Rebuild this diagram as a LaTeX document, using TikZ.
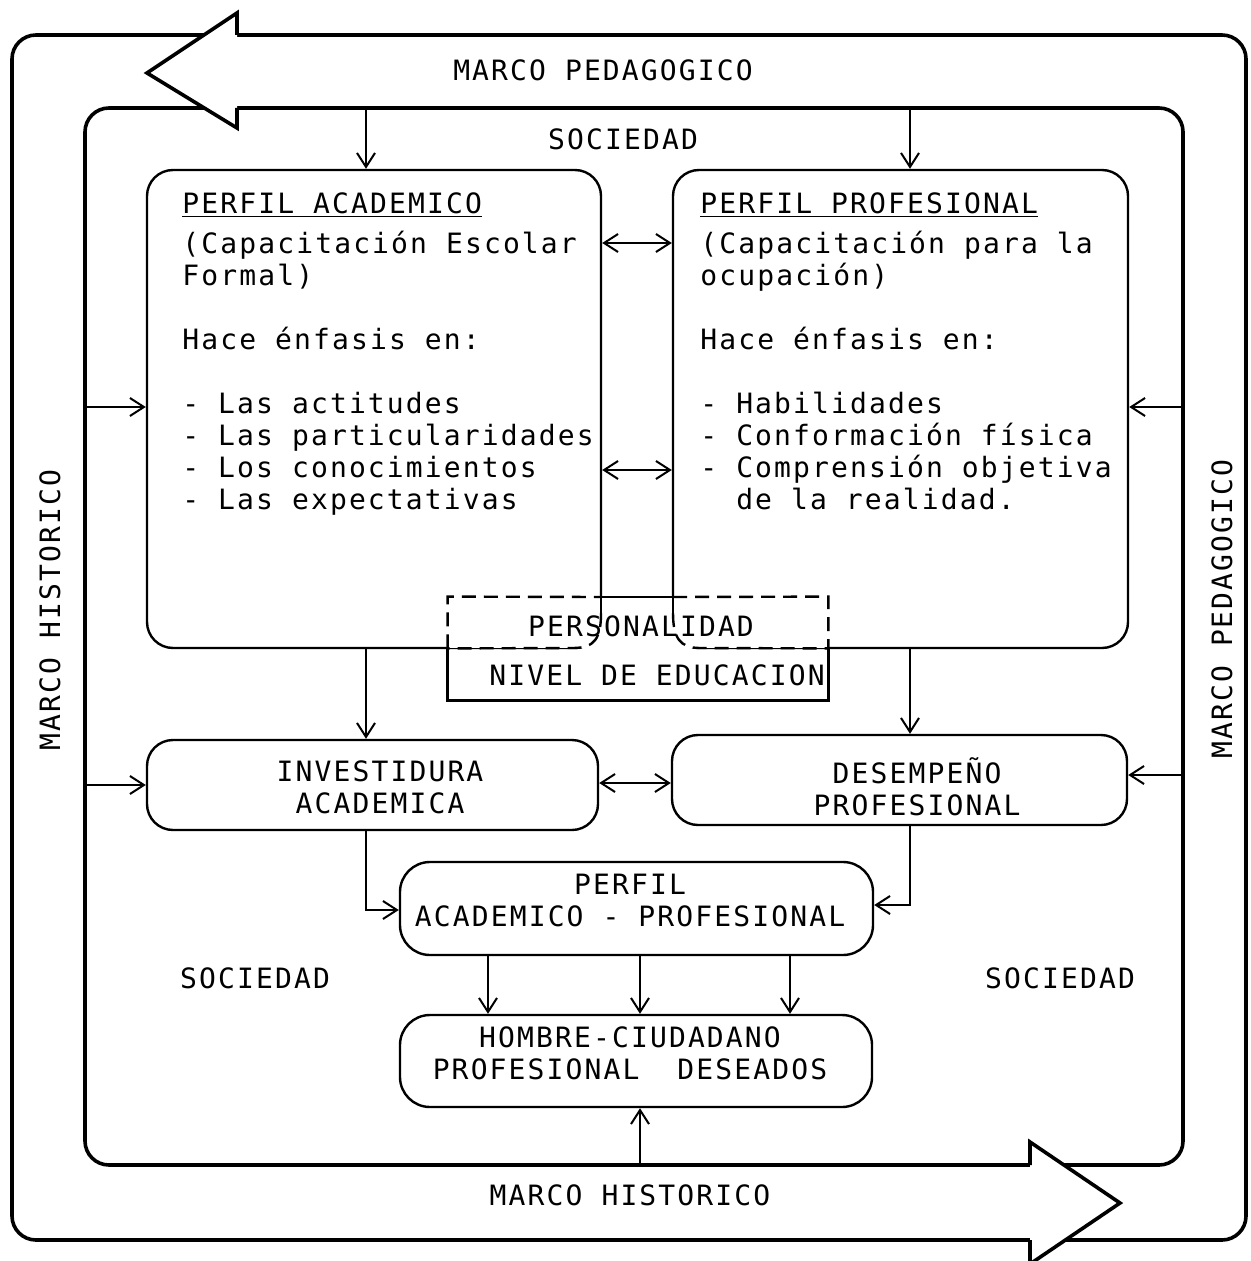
\documentclass[tikz,border=0pt]{standalone}
\usepackage{fontspec}
\newfontfamily\tw[LetterSpace=7.6]{DejaVu Sans Mono}
\usetikzlibrary{arrows.meta,fit,calc}
\begin{document}
\begin{tikzpicture}[x=0.5pt,y=-0.5pt,
  every node/.style={font=\tw\fontsize{14}{16}\selectfont, inner sep=0pt},
  frame/.style={draw, line width=1.8pt, rounded corners=12pt, inner sep=0pt},
  box/.style={draw, line width=1.2pt, rounded corners=13pt, inner sep=0pt},
  >={Straight Barb[length=7pt,width=9pt]},
  arr/.style={line width=1pt, ->},
  darr/.style={line width=1pt, <->},
  dsh/.style={line width=1.2pt, dash pattern=on 7pt off 4pt},
  sld/.style={line width=1.2pt}]
\useasboundingbox (0,0) rectangle (1250,1261);

% frames
\node[frame, fit={(12,35)(1246,1240)}] (outer) {};
\node[frame, fit={(85,108)(1183,1165)}] (inner) {};

% big arrow heads
\fill[white] (237,35) -- (237,13) -- (147,73) -- (237,128) -- (237,108) -- cycle;
\draw[line width=1.8pt] (237,35) -- (237,13) -- (147,73) -- (237,128) -- (237,108);
\fill[white] (1030,1165) -- (1030,1142) -- (1120,1203) -- (1030,1264) -- (1030,1240) -- cycle;
\draw[line width=1.8pt] (1030,1165) -- (1030,1142) -- (1120,1203) -- (1030,1264) -- (1030,1240);

% frame labels
\node (mpt) at (603,70) {MARCO PEDAGOGICO};
\node (mhb) at (630,1195) {MARCO HISTORICO};
\node[rotate=90] (mhl) at (50,610) {MARCO HISTORICO};
\node[rotate=90] (mpr) at (1222,609) {MARCO PEDAGOGICO};
\node (soc1) at (623,139) {SOCIEDAD};
\node (soc2) at (255,978) {SOCIEDAD};
\node (soc3) at (1060,978) {SOCIEDAD};

% profile boxes
\node[box, fit={(147,170)(601,648)}] (pa) {};
\node[box, fit={(673,170)(1128,648)}] (pp) {};
\node[anchor=north west, align=left] (pat) at (182,192)
 {\underline{PERFIL ACADEMICO}\\[4pt]
  (Capacitación Escolar\\
  Formal)\\[16pt]
  Hace énfasis en:\\[16pt]
  - Las actitudes\\
  - Las particularidades\\
  - Los conocimientos\\
  - Las expectativas};
\node[anchor=north west, align=left] (ppt) at (700,192)
 {\underline{PERFIL PROFESIONAL}\\[4pt]
  (Capacitación para la\\
  ocupación)\\[16pt]
  Hace énfasis en:\\[16pt]
  - Habilidades\\
  - Conformación física\\
  - Comprensión objetiva\\
  \phantom{-}\ de la realidad.};

% personalidad / nivel de educacion
\node[fit={(448,597)(828,648)}] (per) {};
\node[fit={(448,648)(828,700)}] (niv) {};
\fill[white] (per.north west) rectangle (per.south east);
\draw[dsh] (per.south west) -- (per.north west) -- (601,597);
\draw[dsh] (673,597) -- (per.north east) -- (per.south east);
\draw[sld] (601,613) -- (601,597) -- (673,597) -- (673,613);
\draw[dsh] (601,613) .. controls (601,638) and (595,648) .. (573,648) -- (per.south west);
\draw[dsh] (673,613) .. controls (673,638) and (680,648) .. (700,648) -- (per.south east);
\draw[sld] (niv.north west) -- (niv.south west) -- (niv.south east) -- (niv.north east);
\node (pert) at (641,626) {PERSONALIDAD};
\node (nivt) at (657,675) {NIVEL DE EDUCACION};

% lower boxes
\node[box, fit={(147,740)(598,830)}] (inv) {};
\node[box, fit={(672,735)(1127,825)}] (des) {};
\node[box, rounded corners=15pt, fit={(400,862)(873,955)}] (pap) {};
\node[box, rounded corners=15pt, fit={(400,1015)(872,1107)}] (hom) {};
\node[align=center] (invt) at (380,787) {INVESTIDURA\\ACADEMICA};
\node[align=center] (dest) at (917,787) {DESEMPEÑO\\PROFESIONAL};
\node[align=center] (papt) at (630,900) {PERFIL\\ACADEMICO - PROFESIONAL};
\node[align=center] (homt) at (630,1053) {HOMBRE-CIUDADANO\\PROFESIONAL\ \ DESEADOS};

% connectors
\draw[arr] (inner.north -| 366,0) -- (pa.north -| 366,0);
\draw[arr] (inner.north -| 910,0) -- (pp.north -| 910,0);
\draw[arr] (inner.west |- 0,407) -- (pa.west |- 0,407);
\draw[arr] (inner.east |- 0,407) -- (pp.east |- 0,407);
\draw[darr] (pa.east |- 0,243) -- (pp.west |- 0,243);
\draw[darr] (pa.east |- 0,470) -- (pp.west |- 0,470);
\draw[arr] (pa.south -| 366,0) -- (inv.north -| 366,0);
\draw[arr] (pp.south -| 910,0) -- (des.north -| 910,0);
\draw[darr] (inv.east |- 0,783) -- (des.west |- 0,783);
\draw[arr] (inner.west |- 0,785) -- (inv.west |- 0,785);
\draw[arr] (inner.east |- 0,775) -- (des.east |- 0,775);
\draw[arr] (inv.south -| 366,0) |- (pap.west |- 0,910);
\draw[arr] (des.south -| 910,0) |- (pap.east |- 0,905);
\draw[arr] (pap.south -| 488,0) -- (hom.north -| 488,0);
\draw[arr] (pap.south -| 640,0) -- (hom.north -| 640,0);
\draw[arr] (pap.south -| 790,0) -- (hom.north -| 790,0);
\draw[arr] (inner.south -| 640,0) -- (hom.south -| 640,0);
\end{tikzpicture}
\end{document}
